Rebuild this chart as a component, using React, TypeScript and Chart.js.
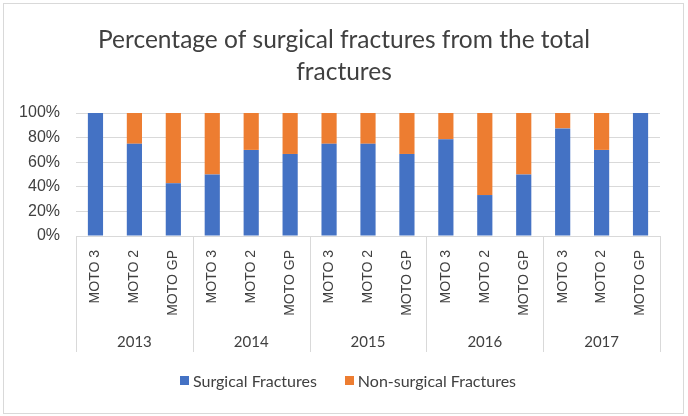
import { useEffect, useRef } from "react";
import { Chart, registerables } from "chart.js";

Chart.register(...registerables);

const years = ["2013", "2014", "2015", "2016", "2017"];
const classes = [
  "MOTO 3", "MOTO 2", "MOTO GP",
  "MOTO 3", "MOTO 2", "MOTO GP",
  "MOTO 3", "MOTO 2", "MOTO GP",
  "MOTO 3", "MOTO 2", "MOTO GP",
  "MOTO 3", "MOTO 2", "MOTO GP",
];
const surgical = [100, 75, 42.9, 50, 70, 66.7, 75, 75, 66.7, 78.6, 33.3, 50, 87.5, 70, 100];
const nonSurgical = [0, 25, 57.1, 50, 30, 33.3, 25, 25, 33.3, 21.4, 66.7, 50, 12.5, 30, 0];

const BLUE = "#4472c4";
const ORANGE = "#ed7d31";
const TEXT = "#404040";
const GRID = "#d9d9d9";
const CALIBRI = "Lato, 'Open Sans', sans-serif";
const ARIAL = "'Liberation Sans', Arial, sans-serif";
const YEAR_ROW = 32;

// vertical separators between the year groups, under the plot
const groupLines = {
  id: "groupLines",
  afterDraw(chart: any) {
    const x = chart.scales.x;
    const x2 = chart.scales.x2;
    const per = classes.length / years.length;
    const ctx = chart.ctx;
    ctx.save();
    ctx.strokeStyle = GRID;
    ctx.lineWidth = 1;
    for (let g = 0; g <= years.length; g++) {
      const px = Math.round(x.getPixelForValue(g * per - 0.5)) + 0.5;
      ctx.beginPath();
      ctx.moveTo(px, chart.chartArea.bottom);
      ctx.lineTo(px, x2.top + YEAR_ROW);
      ctx.stroke();
    }
    ctx.restore();
  },
};

export default function App() {
  const canvasRef = useRef<HTMLCanvasElement>(null);
  const chartRef = useRef<Chart | null>(null);

  useEffect(() => {
    document.body.style.margin = "0";
    if (!canvasRef.current) return;
    const ctx = canvasRef.current.getContext("2d");
    if (!ctx) return;

    chartRef.current?.destroy();
    chartRef.current = new Chart(ctx, {
      type: "bar",
      data: {
        labels: classes,
        datasets: [
          {
            label: "Surgical Fractures",
            data: surgical,
            backgroundColor: BLUE,
            barPercentage: 0.39,
            categoryPercentage: 1,
          },
          {
            label: "Non-surgical Fractures",
            data: nonSurgical,
            backgroundColor: ORANGE,
            barPercentage: 0.39,
            categoryPercentage: 1,
          },
        ],
      },
      options: {
        responsive: true,
        maintainAspectRatio: false,
        animation: false,
        layout: { padding: 0 },
        plugins: {
          legend: { display: false },
          tooltip: { enabled: false },
          title: {
            display: true,
            text: ["Percentage of surgical fractures from the total", "fractures"],
            color: TEXT,
            font: { family: CALIBRI, size: 24.5, weight: "normal", lineHeight: 32 / 24.5 },
            padding: { top: 24, bottom: 25 },
          },
        },
        scales: {
          y: {
            stacked: true,
            min: 0,
            max: 100,
            afterFit: (s: any) => { s.width = 76; },
            grid: { color: GRID, drawTicks: false },
            border: { display: false },
            ticks: {
              stepSize: 20,
              padding: 16,
              color: TEXT,
              font: { family: ARIAL, size: 16 },
              callback: (v: any) => v + "%",
            },
          },
          // empty right margin
          yR: {
            type: "linear",
            position: "right",
            afterFit: (s: any) => { s.width = 28; },
            grid: { display: false },
            border: { display: false },
            ticks: { display: false },
          },
          x: {
            stacked: true,
            weight: 0,
            afterFit: (s: any) => { s.height = 84; },
            grid: { display: false, drawTicks: false },
            border: { display: true, color: GRID, width: 1 },
            ticks: {
              autoSkip: false,
              minRotation: 90,
              maxRotation: 90,
              padding: 14,
              color: TEXT,
              font: { family: ARIAL, size: 14 },
            },
          },
          x2: {
            type: "category",
            position: "bottom",
            labels: years,
            offset: true,
            weight: 1,
            afterFit: (s: any) => { s.height = YEAR_ROW + 64; },
            grid: { display: false, drawTicks: false },
            border: { display: false },
            ticks: {
              padding: 13,
              color: TEXT,
              font: { family: CALIBRI, size: 15 },
            },
          },
        },
      },
      plugins: [groupLines],
    });

    return () => chartRef.current?.destroy();
  }, []);

  const legendItem = (color: string, text: string, gap: number) => (
    <span style={{ display: "inline-flex", alignItems: "center", marginRight: gap }}>
      <span style={{ width: 9, height: 9, background: color, marginRight: 4 }} />
      {text}
    </span>
  );

  return (
    <div style={{ position: "relative", width: 688, height: 416, background: "#fff" }}>
      <canvas ref={canvasRef} />
      <div
        style={{
          position: "absolute",
          left: 3,
          top: 3,
          width: 681,
          height: 411,
          border: `1px solid ${GRID}`,
          boxSizing: "border-box",
          pointerEvents: "none",
        }}
      />
      <div
        style={{
          position: "absolute",
          left: 8,
          top: 370,
          width: 680,
          height: 20,
          display: "flex",
          justifyContent: "center",
          alignItems: "center",
          fontFamily: CALIBRI,
          fontSize: 16,
          color: TEXT,
        }}
      >
        {legendItem(BLUE, "Surgical Fractures", 28)}
        {legendItem(ORANGE, "Non-surgical Fractures", 0)}
      </div>
    </div>
  );
}
